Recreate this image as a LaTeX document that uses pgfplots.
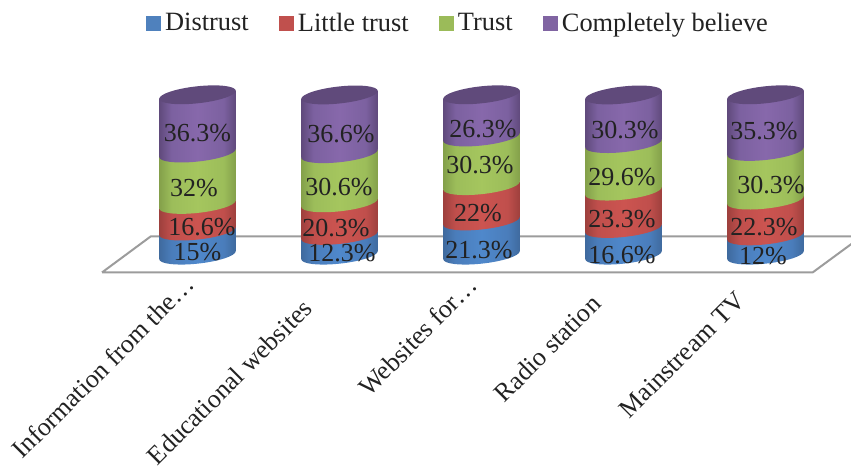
\documentclass[border=0pt]{standalone}
\usepackage{pgfplots}
\pgfplotsset{compat=1.18}
\usepackage{fontspec}
\setmainfont{Liberation Serif}

% Series colours: flat swatch, edge, shoulder and centre of each cylinder band
\definecolor{swB}{HTML}{4F81BD}\definecolor{edB}{HTML}{3F6A9E}\definecolor{mdB}{HTML}{4A7DBB}\definecolor{ltB}{HTML}{4F88CB}
\definecolor{swR}{HTML}{C0504D}\definecolor{edR}{HTML}{9E403D}\definecolor{mdR}{HTML}{C04F4C}\definecolor{ltR}{HTML}{CC5450}
\definecolor{swG}{HTML}{9BBB59}\definecolor{edG}{HTML}{84A04A}\definecolor{mdG}{HTML}{9CBD5A}\definecolor{ltG}{HTML}{A5C65E}
\definecolor{swP}{HTML}{8064A2}\definecolor{edP}{HTML}{604A7C}\definecolor{mdP}{HTML}{7C61A0}\definecolor{ltP}{HTML}{8768AB}
\definecolor{capP}{HTML}{604A7B}
\definecolor{floorline}{HTML}{9C9C9C}
\definecolor{inktext}{HTML}{222222}

\newcommand\declcylshade[1]{%
  \pgfdeclarehorizontalshading{cylsh#1}{100bp}{%
    color(0bp)=(ed#1);color(25bp)=(ed#1);color(33bp)=(md#1);color(50bp)=(lt#1);%
    color(67bp)=(md#1);color(75bp)=(ed#1);color(100bp)=(ed#1)}}
\declcylshade{B}\declcylshade{R}\declcylshade{G}\declcylshade{P}

% One band of a tilted cylinder, anchored at the centre of its lower rim.
% Band height comes from the table column h; 1.20375pt is the length of one y unit.
\newcommand\cylband[1]{%
  \pgfmathsetmacro{\bandH}{\segh*1.20375}%
  \path[draw=none, shading=cylsh#1]
    (-28.7pt,-3pt) .. controls (-28.7pt,-6.53pt) and (-15.85pt,-8.06pt) .. (0pt,-6.4pt)
    .. controls (15.85pt,-4.74pt) and (28.7pt,-0.53pt) .. (28.7pt,3pt)
    -- (28.7pt,3pt+\bandH pt) -- (-28.7pt,-3pt+\bandH pt) -- cycle;}
\pgfdeclareplotmark{bandB}{\cylband{B}}
\pgfdeclareplotmark{bandR}{\cylband{R}}
\pgfdeclareplotmark{bandG}{\cylband{G}}
\pgfdeclareplotmark{bandP}{%
  \cylband{P}%
  \pgfpathellipse{\pgfqpoint{0pt}{\bandH pt}}{\pgfqpoint{28.7pt}{3pt}}{\pgfqpoint{0pt}{6.4pt}}%
  \pgfsetfillcolor{capP}\pgfusepath{fill}}

\pgfplotsset{
  band/.style={scatter, only marks, mark=band#1,
    scatter/@pre marker code/.code={}, scatter/@post marker code/.code={},
    visualization depends on={\thisrow{h} \as \segh},
    legend image code/.code={\fill[sw#1] (0pt,-5.25pt) rectangle (10.5pt,5.25pt);\path (12pt,0pt);}},
}

\begin{document}
\begin{tikzpicture}
\begin{axis}[
  at={(0pt,0pt)}, anchor=south west,
  scale only axis, width=638.25pt, height=349.5pt,
  xmin=-1.3908, xmax=4.6021, ymin=-131.46, ymax=158.88,
  axis line style={draw=none}, major tick length=0pt,
  ytick=\empty,
  xtick={0,1,2,3,4},
  xticklabels={Information from the…\hspace*{0pt},
               Educational websites\hspace*{26pt},
               Websites for…\hspace*{1pt},
               Radio station\hspace*{21pt},
               Mainstream TV\hspace*{18pt}},
  xticklabel style={rotate=45, anchor=north east, yshift=110pt, xshift=95pt,
    font=\fontsize{19.5}{22}\selectfont, text=inktext, inner sep=0pt},
  legend columns=4,
  legend style={at={(0.5385,0.951)}, anchor=center, draw=none, fill=none,
    font=\fontsize{19.8}{22}\selectfont, text=inktext, inner sep=0pt,
    /tikz/every even column/.append style={column sep=20.5pt}},
  legend cell align=left,
]
% Floor of the plot area
\addplot[forget plot, draw=floorline, line width=1.5pt, mark=none, line join=miter]
  coordinates {(-0.6725,-10.78) (-0.3296,11.65) (4.677,11.65) (4.332,-10.78) (-0.6725,-10.78)};

% Bands, lowest first so each rim overlaps the band beneath it
\addplot[band=B] table[y=low] {
x low h
0 0 15
1 0 12.3
2 0 21.3
3 0 16.6
4 0 12
};
\addlegendentry{Distrust}
\addplot[band=R] table[y=low] {
x low h
0 15 16.6
1 12.3 20.3
2 21.3 22
3 16.6 23.3
4 12 22.3
};
\addlegendentry{Little trust}
\addplot[band=G] table[y=low] {
x low h
0 31.6 32
1 32.6 30.6
2 43.3 30.3
3 39.9 29.6
4 34.3 30.3
};
\addlegendentry{Trust}
\addplot[band=P] table[y=low] {
x low h
0 63.6 36.3
1 63.2 36.6
2 73.6 26.3
3 69.5 30.3
4 64.6 35.3
};
\addlegendentry{Completely believe}

% Value labels
\addplot[forget plot, only marks, mark=none,
  point meta=\thisrow{v},
  nodes near coords={\pgfmathprintnumber[fixed,precision=1,assume math mode=true]{\pgfplotspointmeta}\%},
  every node near coord/.style={anchor=center, inner sep=0pt, text=inktext,
    font=\fontsize{19.5}{22}\selectfont},
] table {
x y v
0.000 76.0 36.3
-0.025 41.7 32
0.032 17.4 16.6
0.000 1.9 15
1.011 75.4 36.6
0.996 42.4 30.6
0.975 16.8 20.3
1.018 1.2 12.3
2.011 78.5 26.3
1.989 56.1 30.3
1.975 26.2 22
1.982 3.1 21.3
3.011 77.9 30.3
2.989 48.6 29.6
2.989 22.4 23.3
2.989 0.0 16.6
3.989 77.3 35.3
4.039 43.6 30.3
3.989 17.4 22.3
3.982 -0.6 12
};
\end{axis}
\end{tikzpicture}
\end{document}
